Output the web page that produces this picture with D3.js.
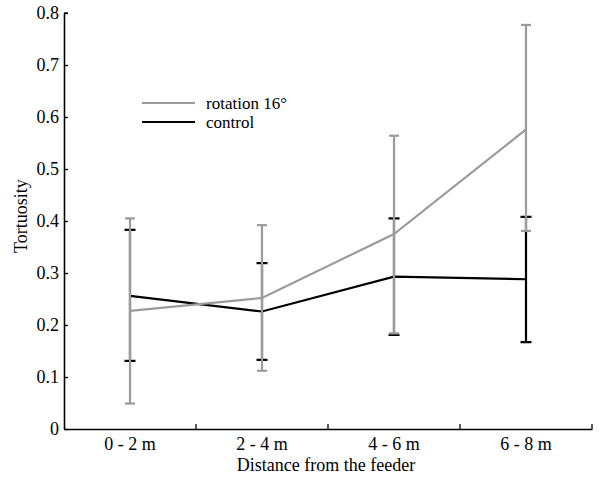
<!DOCTYPE html>
<html><head><meta charset="utf-8">
<script src="https://cdn.jsdelivr.net/npm/d3@7"></script>
<style>body{margin:0;background:#fff}svg{display:block}</style>
</head><body>
<svg id="c" width="600" height="486"></svg>
<script>
const categories = ["0 - 2 m","2 - 4 m","4 - 6 m","6 - 8 m"];
const rotationMean = [0.227,0.252,0.375,0.576];
const rotationLow  = [0.049,0.112,0.184,0.381];
const rotationHigh = [0.405,0.392,0.564,0.777];
const controlMean = [0.256,0.226,0.293,0.288];
const controlLow  = [0.131,0.133,0.181,0.167];
const controlHigh = [0.383,0.319,0.405,0.408];
const yTicks = [0,0.1,0.2,0.3,0.4,0.5,0.6,0.7,0.8];
const seriesNames = ["rotation 16°","control"];

const FONT = "'Liberation Serif', Tinos, 'Times New Roman', serif";
const svg = d3.select("#c").style("font-family", FONT);
const L=64, R=592, T=13, B=429;
const x = d3.scaleBand().domain(categories).range([L,R]);
const y = d3.scaleLinear().domain([0,0.8]).range([B,T]);
const gray="#9b9b9b", black="#000";

// axes
const ya = svg.append("g").attr("transform",`translate(${L},0)`)
  .call(d3.axisLeft(y).tickValues(yTicks).tickFormat(d=>d===0?"0":d3.format(".1f")(d)).tickSizeInner(-4).tickSizeOuter(0).tickPadding(5));
const xa = svg.append("g").attr("transform",`translate(0,${B})`)
  .call(d3.axisBottom(x).tickSize(0).tickPadding(8));
[ya,xa].forEach(g=>{g.attr("font-family",null).attr("font-size",null);
  g.selectAll("path").attr("stroke","#000").attr("stroke-width",1.6);
  g.selectAll("line").attr("stroke","#000").attr("stroke-width",1.3);
  g.selectAll("text").attr("fill","#000").style("font-family",FONT).style("font-size","18px");});
// x boundary ticks
const bounds = categories.slice(1).map(c=>x(c)).concat([R]);
svg.append("g").selectAll("line").data(bounds).join("line")
  .attr("x1",d=>d).attr("x2",d=>d).attr("y1",B).attr("y2",B-5).attr("stroke","#000").attr("stroke-width",1.3);
svg.append("line").attr("x1",L).attr("x2",L+4).attr("y1",y(0.8)).attr("y2",y(0.8)).attr("stroke","#000").attr("stroke-width",1.3);

const cx = c=>x(c)+x.bandwidth()/2;

function errorBars(low,high,color,lw,capw){
  const g=svg.append("g");
  g.selectAll(".v").data(categories).join("line")
    .attr("x1",cx).attr("x2",cx).attr("y1",(d,i)=>y(low[i])).attr("y2",(d,i)=>y(high[i]))
    .attr("stroke",color).attr("stroke-width",lw);
  [low,high].forEach((arr,k)=>{
    g.selectAll(".c"+k).data(categories).join("line")
      .attr("x1",d=>cx(d)-capw/2).attr("x2",d=>cx(d)+capw/2)
      .attr("y1",(d,i)=>y(arr[i])).attr("y2",(d,i)=>y(arr[i]))
      .attr("stroke",color).attr("stroke-width",lw);
  });
}
const line = d3.line().x((d,i)=>cx(categories[i])).y(d=>y(d));
errorBars(controlLow,controlHigh,black,2.2,11);
svg.append("path").attr("d",line(controlMean)).attr("fill","none").attr("stroke",black).attr("stroke-width",2.2);
errorBars(rotationLow,rotationHigh,gray,2.2,10);
svg.append("path").attr("d",line(rotationMean)).attr("fill","none").attr("stroke",gray).attr("stroke-width",2.2);

// legend
const lg = svg.append("g");
[gray,black].forEach((c,i)=>{
  const yy = 103+i*19;
  lg.append("line").attr("x1",142).attr("x2",195).attr("y1",yy).attr("y2",yy).attr("stroke",c).attr("stroke-width",2.2);
  lg.append("text").attr("x",206).attr("y",yy+5.5).style("font-size","17px").text(seriesNames[i]);
});

// axis titles
svg.append("text").attr("x",326).attr("y",471).attr("text-anchor","middle").style("font-size","18px").text("Distance from the feeder");
svg.append("text").attr("transform","translate(27,216) rotate(-90)").attr("text-anchor","middle").style("font-size","18px").text("Tortuosity");
</script>
</body></html>
